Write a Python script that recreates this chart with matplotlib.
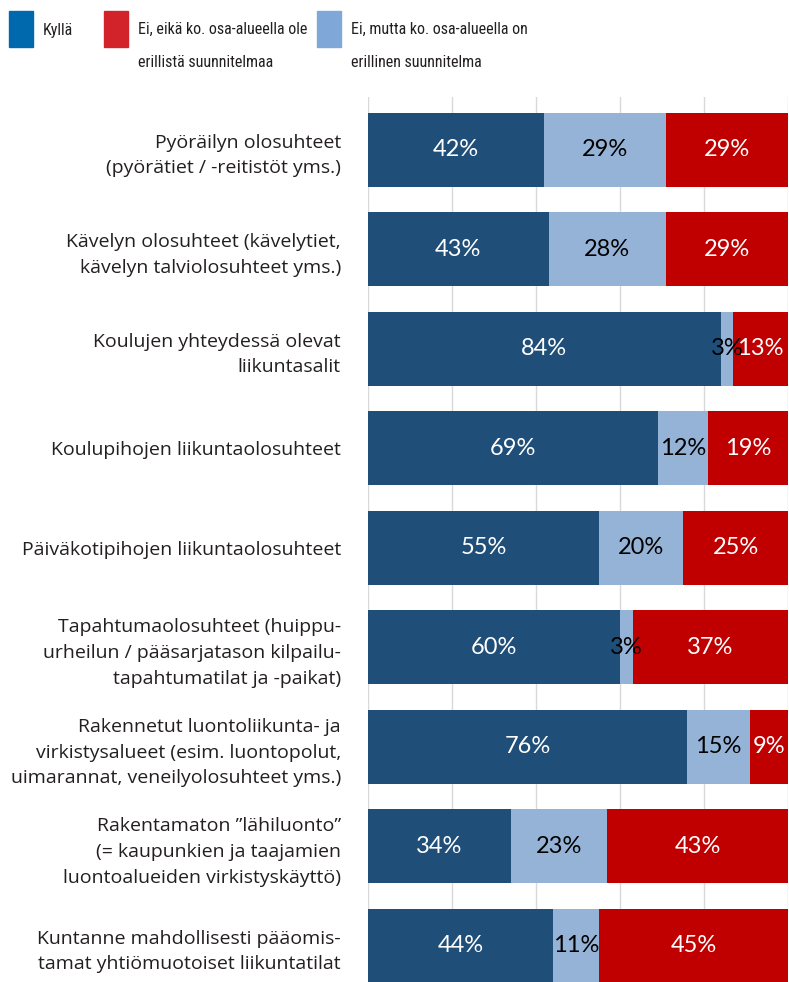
import matplotlib
matplotlib.use('Agg')
import matplotlib.pyplot as plt
from matplotlib.patches import Rectangle
from matplotlib import font_manager

# data
categories = [
    'Pyöräilyn olosuhteet\n(pyörätiet / -reitistöt yms.)',
    'Kävelyn olosuhteet (kävelytiet,\nkävelyn talviolosuhteet yms.)',
    'Koulujen yhteydessä olevat\nliikuntasalit',
    'Koulupihojen liikuntaolosuhteet',
    'Päiväkotipihojen liikuntaolosuhteet',
    'Tapahtumaolosuhteet (huippu-\nurheilun / pääsarjatason kilpailu-\ntapahtumatilat ja -paikat)',
    'Rakennetut luontoliikunta- ja\nvirkistysalueet (esim. luontopolut,\nuimarannat, veneilyolosuhteet yms.)',
    'Rakentamaton ”lähiluonto”\n(= kaupunkien ja taajamien\nluontoalueiden virkistyskäyttö)',
    'Kuntanne mahdollisesti pääomis-\ntamat yhtiömuotoiset liikuntatilat',
]
kylla = [42, 43, 84, 69, 55, 60, 76, 34, 44]
ei_mutta = [29, 28, 3, 12, 20, 3, 15, 23, 11]
ei_eika = [29, 29, 13, 19, 25, 37, 9, 43, 45]

legend_labels = ['Kyllä', 'Ei, eikä ko. osa-alueella ole\nerillistä suunnitelmaa',
                 'Ei, mutta ko. osa-alueella on\nerillinen suunnitelma']

c_kylla = '#1F4E79'
c_mutta = '#95B3D7'
c_eika = '#C00000'

# narrow font for the legend if one is around
fonts = font_manager.fontManager.ttflist
names = {f.name for f in fonts}
leg_font = dict(family='Roboto', fontsize=10.5)
for nm in ['Liberation Sans Narrow', 'Roboto Condensed', 'Open Sans Condensed', 'Noto Sans Condensed']:
    if nm in names:
        leg_font = dict(family=nm, fontsize=11.5)
        break
else:
    if any(f.name == 'DejaVu Sans' and f.stretch == 'condensed' for f in fonts):
        leg_font = dict(family='DejaVu Sans', fontstretch='condensed', fontsize=11)

W, H = 789, 982
fig = plt.figure(figsize=(W / 100, H / 100), dpi=100)
ax = fig.add_axes([368 / W, 0, 420 / W, 1 - 97 / H])

y = list(range(len(categories)))
h = 0.744
left2 = [a for a in kylla]
left3 = [a + b for a, b in zip(kylla, ei_mutta)]

ax.barh(y, kylla, height=h, color=c_kylla, zorder=2)
ax.barh(y, ei_mutta, left=left2, height=h, color=c_mutta, zorder=2)
ax.barh(y, ei_eika, left=left3, height=h, color=c_eika, zorder=2)

pct_font = dict(family='Lato', fontsize=17)
for i in y:
    ax.text(kylla[i] / 2, i, f'{kylla[i]}%', ha='center', va='center', color='white', zorder=3, **pct_font)
    ax.text(left2[i] + ei_mutta[i] / 2, i, f'{ei_mutta[i]}%', ha='center', va='center', color='black', zorder=3, **pct_font)
    ax.text(left3[i] + ei_eika[i] / 2, i, f'{ei_eika[i]}%', ha='center', va='center', color='white', zorder=3, **pct_font)

ax.set_xlim(0, 100)
ax.set_ylim(8.364, -0.53)
ax.set_xticks([0, 20, 40, 60, 80, 100])
ax.xaxis.grid(True, color='#D9D9D9', linewidth=1, zorder=0)
ax.tick_params(axis='x', length=0, labelbottom=False)
ax.tick_params(axis='y', length=0, pad=19.5)
ax.set_yticks(y)
ax.set_yticklabels(categories, fontsize=14, family='Open Sans', color='#231F20', linespacing=1.55)
for s in ax.spines.values():
    s.set_visible(False)

# legend drawn by hand
leg_colors = ['#0068AD', '#D2232A', '#7FA8D8']
leg_x = [9, 104, 317]
for lx, col, lab in zip(leg_x, leg_colors, legend_labels):
    fig.patches.append(Rectangle((lx / W, 1 - 47 / H), 24 / W, 36 / H,
                                 transform=fig.transFigure, color=col))
    ty = 30 if '\n' not in lab else 46
    fig.text((lx + 34) / W, 1 - ty / H, lab, ha='left', va='center',
             color='#231F20', linespacing=2.45, **leg_font)

fig.savefig('out.png', dpi=100)
